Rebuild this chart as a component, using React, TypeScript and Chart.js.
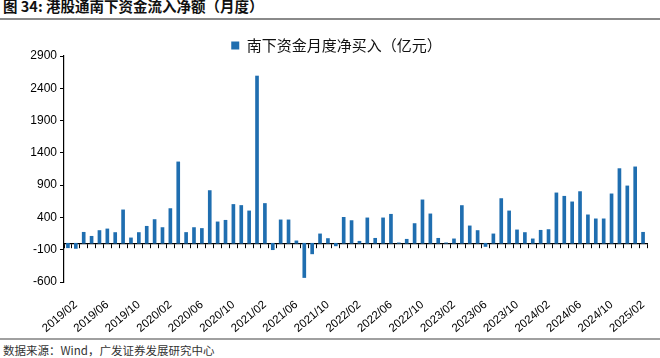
import React, { useEffect, useRef } from 'react';
import { Chart, registerables } from 'chart.js';

Chart.register(...registerables);

const months = [
  '2019/01', '2019/02', '2019/03', '2019/04', '2019/05', '2019/06', '2019/07', '2019/08', '2019/09', '2019/10', '2019/11', '2019/12',
  '2020/01', '2020/02', '2020/03', '2020/04', '2020/05', '2020/06', '2020/07', '2020/08', '2020/09', '2020/10', '2020/11', '2020/12',
  '2021/01', '2021/02', '2021/03', '2021/04', '2021/05', '2021/06', '2021/07', '2021/08', '2021/09', '2021/10', '2021/11', '2021/12',
  '2022/01', '2022/02', '2022/03', '2022/04', '2022/05', '2022/06', '2022/07', '2022/08', '2022/09', '2022/10', '2022/11', '2022/12',
  '2023/01', '2023/02', '2023/03', '2023/04', '2023/05', '2023/06', '2023/07', '2023/08', '2023/09', '2023/10', '2023/11', '2023/12',
  '2024/01', '2024/02', '2024/03', '2024/04', '2024/05', '2024/06', '2024/07', '2024/08', '2024/09', '2024/10', '2024/11', '2024/12',
  '2025/01', '2025/02',
];

const tickLabels = [
  '2019/02', '2019/06', '2019/10', '2020/02', '2020/06', '2020/10', '2021/02', '2021/06', '2021/10',
  '2022/02', '2022/06', '2022/10', '2023/02', '2023/06', '2023/10', '2024/02', '2024/06', '2024/10', '2025/02',
];

// 南下资金月度净买入（亿元）
const netBuy = [
  -70, -80, 170, 108, 197, 222, 166, 517, 83, 166, 263, 367,
  243, 537, 1260, 167, 243, 229, 816, 331, 356, 601, 585, 501,
  2590, 616, -100, 362, 362, 37, -531, -164, 145, 73, -40, 402,
  351, 31, 393, 77, 393, 449, 6, 62, 305, 672, 455, 77,
  6, 68, 584, 269, 197, -50, 145, 692, 501, 207, 166, 68,
  201, 212, 780, 728, 641, 800, 440, 378, 378, 765, 1156, 888,
  1183, 170,
];

const seriesName = '南下资金月度净买入（亿元）';
const yMin = -600;
const yMax = 2900;
const yStep = 500;

const titleText = '图 34: 港股通南下资金流入净额（月度）';
const sourceText = '数据来源：Wind，广发证券发展研究中心';

const BAR = '#1F6EB0';

const legendTrim = {
  id: 'legendTrim',
  beforeLayout(chart: any) {
    const lg: any = chart.legend;
    if (lg && !lg.__trimmed) {
      const orig = lg.fit.bind(lg);
      lg.fit = function () {
        orig();
        this.height = Math.max(0, this.height - 7);
      };
      lg.__trimmed = true;
    }
  },
};

export default function App() {
  const ref = useRef<HTMLCanvasElement | null>(null);

  useEffect(() => {
    if (!ref.current) return;
    const chart = new Chart(ref.current, {
      type: 'bar',
      data: {
        labels: months,
        datasets: [
          {
            label: seriesName,
            data: netBuy,
            backgroundColor: BAR,
            borderWidth: 0,
            barThickness: 3,
          },
        ],
      },
      plugins: [legendTrim],
      options: {
        responsive: false,
        animation: false,
        devicePixelRatio: 1,
        layout: { padding: { left: 26, right: 13, top: 8, bottom: 0 } },
        plugins: {
          tooltip: { enabled: false },
          legend: {
            display: true,
            position: 'top',
            labels: {
              boxWidth: 8,
              boxHeight: 8,
              padding: 10,
              color: '#111',
              font: { family: '"Noto Sans CJK SC"', size: 15 },
            },
          },
        },
        scales: {
          x: {
            type: 'category',
            offset: true,
            grid: { display: false },
            border: { display: false },
            ticks: {
              autoSkip: false,
              minRotation: 40,
              maxRotation: 40,
              padding: 8,
              color: '#000',
              font: { family: '"Liberation Sans", Arial', size: 11.5 },
              callback: (_v: any, i: number) => (tickLabels.includes(months[i]) ? months[i] : ''),
            },
            afterFit: (s: any) => {
              s.height = 56;
              s.paddingLeft = 0;
              s.paddingRight = 0;
            },
          },
          x2: {
            type: 'category',
            labels: months,
            position: { y: 0 } as any,
            offset: true,
            grid: {
              display: true,
              offset: true,
              drawOnChartArea: false,
              drawTicks: true,
              tickLength: 4,
              color: '#000',
              lineWidth: 1,
            },
            border: { display: true, color: '#000', width: 1.2 },
            ticks: { display: false },
          },
          y: {
            type: 'linear',
            min: yMin,
            max: yMax,
            grid: {
              display: true,
              drawOnChartArea: false,
              drawTicks: true,
              tickLength: 4,
              color: '#000',
            },
            border: { display: true, color: '#000', width: 1.2 },
            ticks: {
              stepSize: yStep,
              padding: 3,
              color: '#000',
              font: { family: '"Liberation Sans", Arial', size: 12 },
              callback: (v: any) => String(v),
            },
            afterFit: (s: any) => {
              s.width = 38;
              s.paddingTop = 0;
              s.paddingBottom = 0;
            },
          },
        },
      },
    } as any);
    return () => chart.destroy();
  }, []);

  return (
    <div style={{ position: 'absolute', left: 0, top: 0, width: 660, height: 358, background: '#fff', overflow: 'hidden' }}>
      <div
        style={{
          position: 'absolute',
          left: 3,
          top: -1,
          fontFamily: '"Noto Sans CJK SC"',
          fontWeight: 700,
          fontSize: 14.5,
          lineHeight: '14px',
          color: '#111',
          whiteSpace: 'nowrap',
        }}
      >
        {titleText}
      </div>
      <div style={{ position: 'absolute', left: 0, top: 18, width: 660, height: 2, background: '#8a8a8a' }} />
      <canvas ref={ref} width={660} height={318} style={{ position: 'absolute', left: 0, top: 20, width: 660, height: 318 }} />
      <div style={{ position: 'absolute', left: 0, top: 338, width: 660, height: 2, background: '#a0a0a0' }} />
      <div
        style={{
          position: 'absolute',
          left: 3,
          top: 344,
          fontFamily: '"Noto Sans CJK SC"',
          fontSize: 11.5,
          lineHeight: '13px',
          color: '#333',
          whiteSpace: 'nowrap',
        }}
      >
        {sourceText}
      </div>
    </div>
  );
}
